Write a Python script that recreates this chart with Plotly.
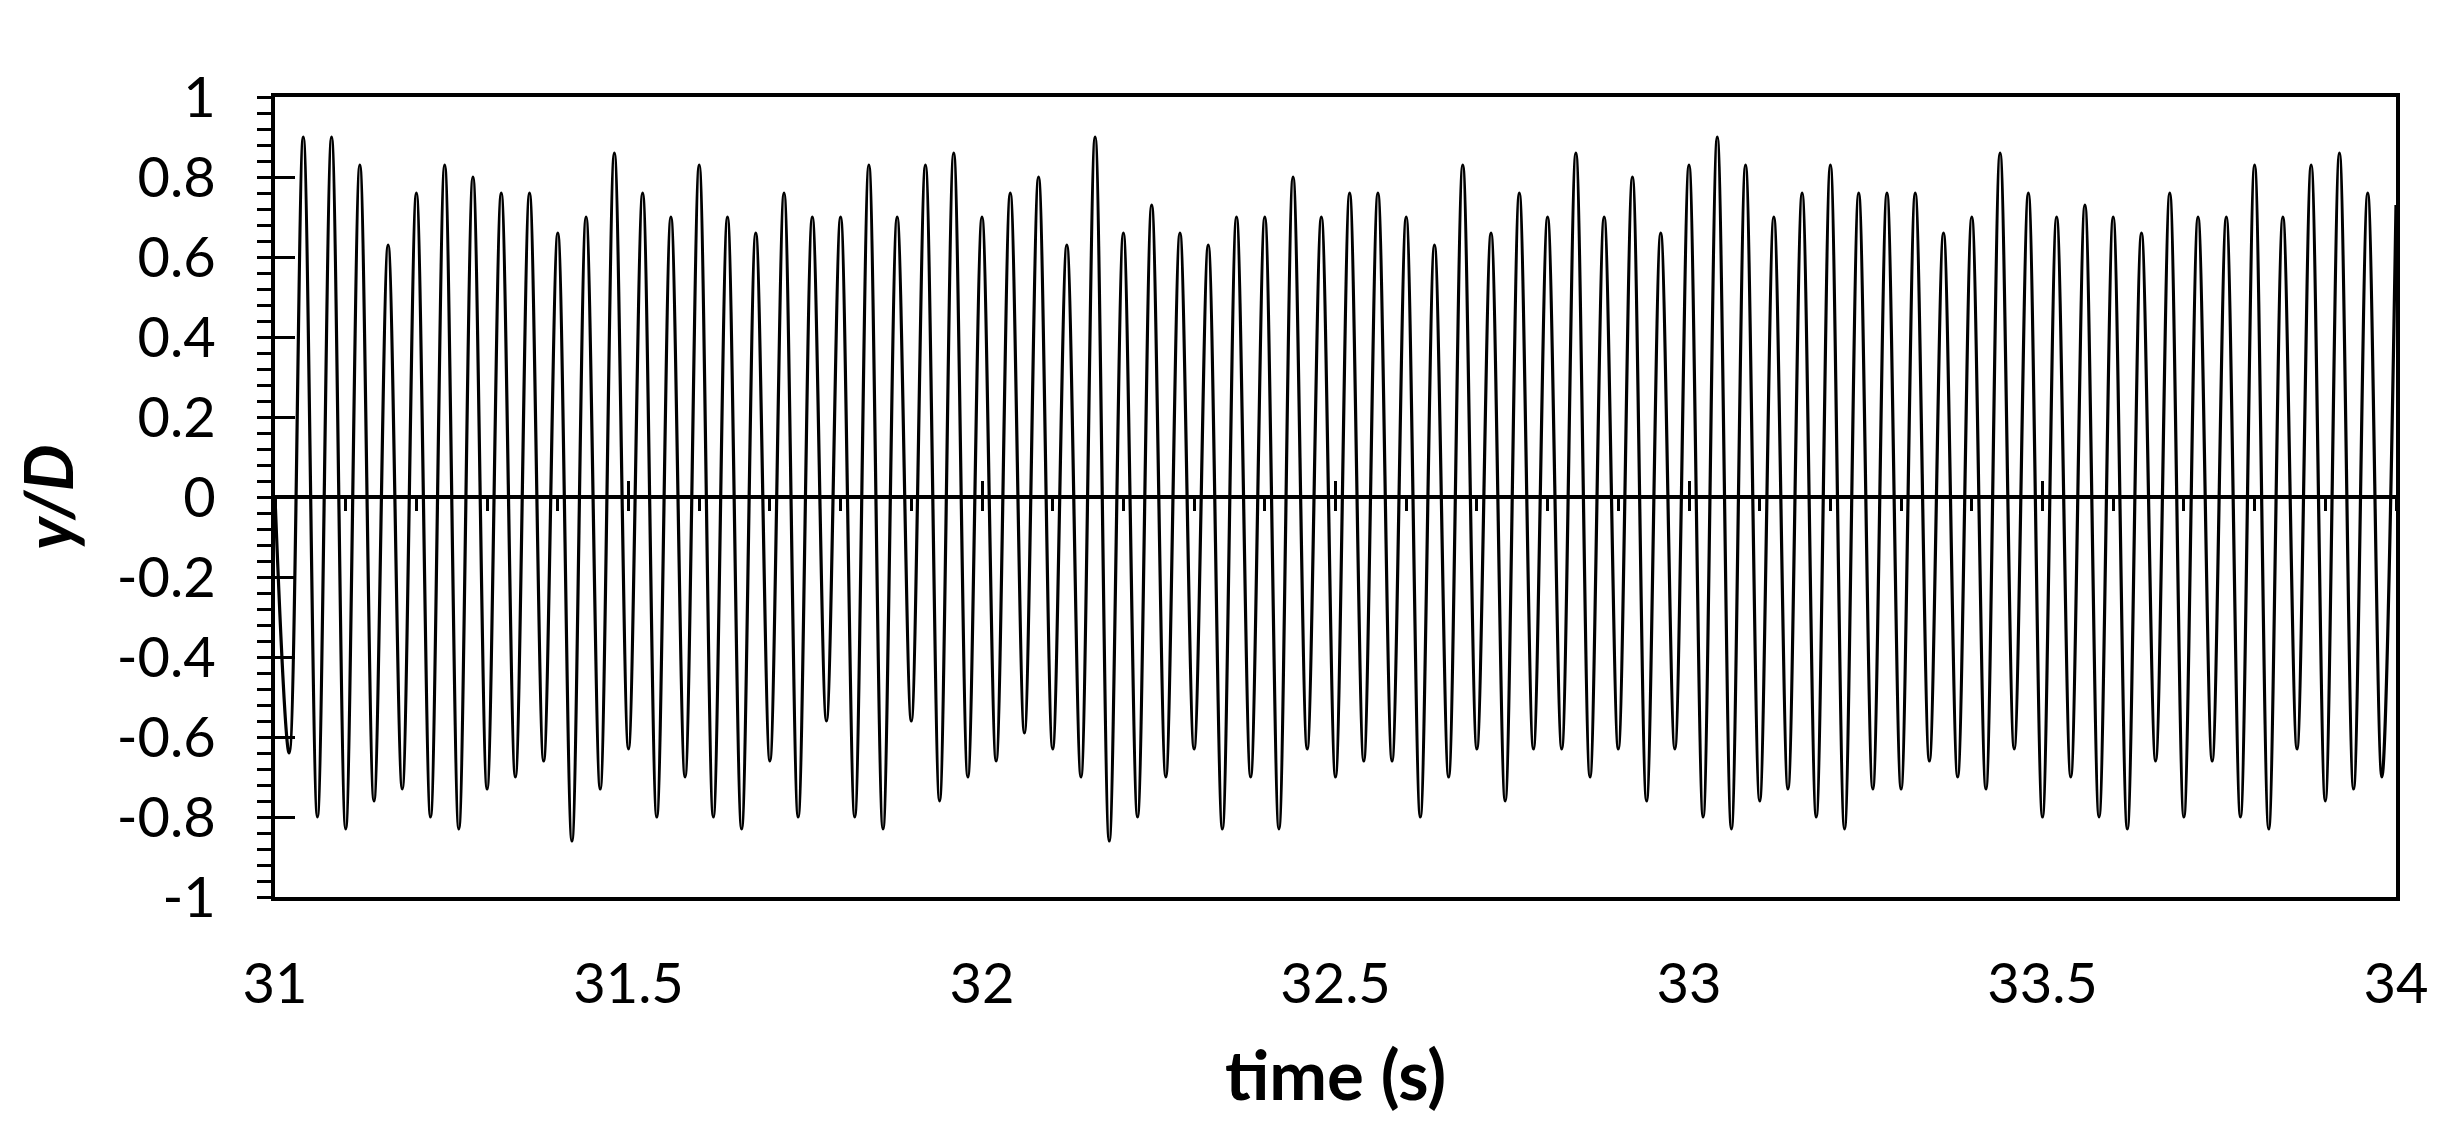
import plotly.graph_objects as go

# time series of cross-flow displacement
# (one value per extremum; the curve between them is drawn by plotly's spline)
start_t = [31.00]
start_y = [0.0]

trough_t = [31.02, 31.06, 31.10, 31.14, 31.18, 31.22, 31.26, 31.30, 31.34, 31.38,
            31.42, 31.46, 31.50, 31.54, 31.58, 31.62, 31.66, 31.70, 31.74, 31.78,
            31.82, 31.86, 31.90, 31.94, 31.98, 32.02, 32.06, 32.10, 32.14, 32.18,
            32.22, 32.26, 32.30, 32.34, 32.38, 32.42, 32.46, 32.50, 32.54, 32.58,
            32.62, 32.66, 32.70, 32.74, 32.78, 32.82, 32.86, 32.90, 32.94, 32.98,
            33.02, 33.06, 33.10, 33.14, 33.18, 33.22, 33.26, 33.30, 33.34, 33.38,
            33.42, 33.46, 33.50, 33.54, 33.58, 33.62, 33.66, 33.70, 33.74, 33.78,
            33.82, 33.86, 33.90, 33.94, 33.98]
trough_y = [-0.64, -0.80, -0.83, -0.76, -0.73, -0.80, -0.83, -0.73, -0.70, -0.66,
            -0.86, -0.73, -0.63, -0.80, -0.70, -0.80, -0.83, -0.66, -0.80, -0.56,
            -0.80, -0.83, -0.56, -0.76, -0.70, -0.66, -0.59, -0.63, -0.70, -0.86,
            -0.80, -0.70, -0.63, -0.83, -0.70, -0.83, -0.63, -0.70, -0.66, -0.66,
            -0.80, -0.70, -0.63, -0.76, -0.63, -0.63, -0.70, -0.63, -0.76, -0.63,
            -0.80, -0.83, -0.76, -0.73, -0.80, -0.83, -0.73, -0.73, -0.66, -0.70,
            -0.73, -0.63, -0.80, -0.70, -0.80, -0.83, -0.66, -0.80, -0.66, -0.80,
            -0.83, -0.63, -0.76, -0.73, -0.70]

peak_t = [31.04, 31.08, 31.12, 31.16, 31.20, 31.24, 31.28, 31.32, 31.36, 31.40,
          31.44, 31.48, 31.52, 31.56, 31.60, 31.64, 31.68, 31.72, 31.76, 31.80,
          31.84, 31.88, 31.92, 31.96, 32.00, 32.04, 32.08, 32.12, 32.16, 32.20,
          32.24, 32.28, 32.32, 32.36, 32.40, 32.44, 32.48, 32.52, 32.56, 32.60,
          32.64, 32.68, 32.72, 32.76, 32.80, 32.84, 32.88, 32.92, 32.96, 33.00,
          33.04, 33.08, 33.12, 33.16, 33.20, 33.24, 33.28, 33.32, 33.36, 33.40,
          33.44, 33.48, 33.52, 33.56, 33.60, 33.64, 33.68, 33.72, 33.76, 33.80,
          33.84, 33.88, 33.92, 33.96, 34.00]
peak_y = [0.90, 0.90, 0.83, 0.63, 0.76, 0.83, 0.80, 0.76, 0.76, 0.66,
          0.70, 0.86, 0.76, 0.70, 0.83, 0.70, 0.66, 0.76, 0.70, 0.70,
          0.83, 0.70, 0.83, 0.86, 0.70, 0.76, 0.80, 0.63, 0.90, 0.66,
          0.73, 0.66, 0.63, 0.70, 0.70, 0.80, 0.70, 0.76, 0.76, 0.70,
          0.63, 0.83, 0.66, 0.76, 0.70, 0.86, 0.70, 0.80, 0.66, 0.83,
          0.90, 0.83, 0.70, 0.76, 0.83, 0.76, 0.76, 0.76, 0.66, 0.70,
          0.86, 0.76, 0.70, 0.73, 0.70, 0.66, 0.76, 0.70, 0.70, 0.83,
          0.70, 0.83, 0.86, 0.76, 0.73]

x_ticks = [31, 31.5, 32, 32.5, 33, 33.5, 34]
x_labels = ["31", "31.5", "32", "32.5", "33", "33.5", "34"]
y_ticks = [-1, -0.8, -0.6, -0.4, -0.2, 0, 0.2, 0.4, 0.6, 0.8, 1]
y_labels = ["-1", "-0.8", "-0.6", "-0.4", "-0.2", "0", "0.2", "0.4", "0.6", "0.8", "1"]

# put all extrema in time order
pts = sorted(zip(start_t + trough_t + peak_t, start_y + trough_y + peak_y))
t = [p[0] for p in pts]
y = [p[1] for p in pts]

FONT = "Lato"

fig = go.Figure()
fig.add_trace(go.Scatter(x=t, y=y, mode="lines",
                         line=dict(color="black", width=3.2, shape="spline"),
                         showlegend=False, hoverinfo="skip"))
# empty traces so the overlay axes (zero line + crossing ticks) get drawn
fig.add_trace(go.Scatter(x=[], y=[], xaxis="x2", yaxis="y", showlegend=False))
fig.add_trace(go.Scatter(x=[], y=[], xaxis="x3", yaxis="y", showlegend=False))
fig.add_trace(go.Scatter(x=[], y=[], xaxis="x", yaxis="y2", showlegend=False))

# page body has an 8px margin, so shift the plot area up/left by that much
fig.update_layout(
    width=2447, height=1139,
    margin=dict(l=267, r=59, t=89, b=250),
    paper_bgcolor="white", plot_bgcolor="white",
    font=dict(family=FONT, color="black"),
    xaxis=dict(
        range=[31, 34], tickmode="array", tickvals=x_ticks, ticktext=x_labels,
        ticks="", showgrid=False, zeroline=False,
        showline=True, linewidth=4, linecolor="black", mirror=True,
        tickfont=dict(size=56, family=FONT), ticklabelstandoff=35,
        title=dict(text="<b>time (s)</b>", font=dict(size=69, family=FONT), standoff=38),
    ),
    # horizontal axis crossing at y = 0
    xaxis2=dict(
        overlaying="x", anchor="free", position=0.5, range=[31, 34],
        showline=True, linewidth=4, linecolor="black",
        tickmode="linear", tick0=31, dtick=0.5, ticks="outside", ticklen=12,
        tickwidth=3, tickcolor="black",
        minor=dict(tickmode="linear", tick0=31, dtick=0.1, ticks="outside",
                   ticklen=12, tickwidth=3, tickcolor="black"),
        showticklabels=False, showgrid=False, zeroline=False,
    ),
    xaxis3=dict(
        overlaying="x", anchor="free", position=0.5, range=[31, 34],
        showline=False, tickmode="linear", tick0=31, dtick=0.5,
        ticks="inside", ticklen=16, tickwidth=3, tickcolor="black",
        showticklabels=False, showgrid=False, zeroline=False,
    ),
    yaxis=dict(
        range=[-1, 1], tickmode="array", tickvals=y_ticks, ticktext=y_labels,
        ticks="outside", ticklen=14, tickwidth=3, tickcolor="black",
        minor=dict(tickmode="linear", tick0=0, dtick=0.04, ticks="outside",
                   ticklen=14, tickwidth=3, tickcolor="black"),
        showgrid=False, zeroline=False,
        showline=True, linewidth=4, linecolor="black", mirror=True,
        tickfont=dict(size=56, family=FONT), ticklabelstandoff=30,
        title=dict(text="<b><i>y/D</i></b>", font=dict(size=66, family=FONT), standoff=24),
    ),
    yaxis2=dict(
        overlaying="y", anchor="x", side="left", range=[-1, 1],
        tickmode="array", tickvals=y_ticks, ticks="inside", ticklen=20,
        tickwidth=3, tickcolor="black", showticklabels=False,
        showline=False, showgrid=False, zeroline=False,
    ),
)

fig.write_html("out.html")
